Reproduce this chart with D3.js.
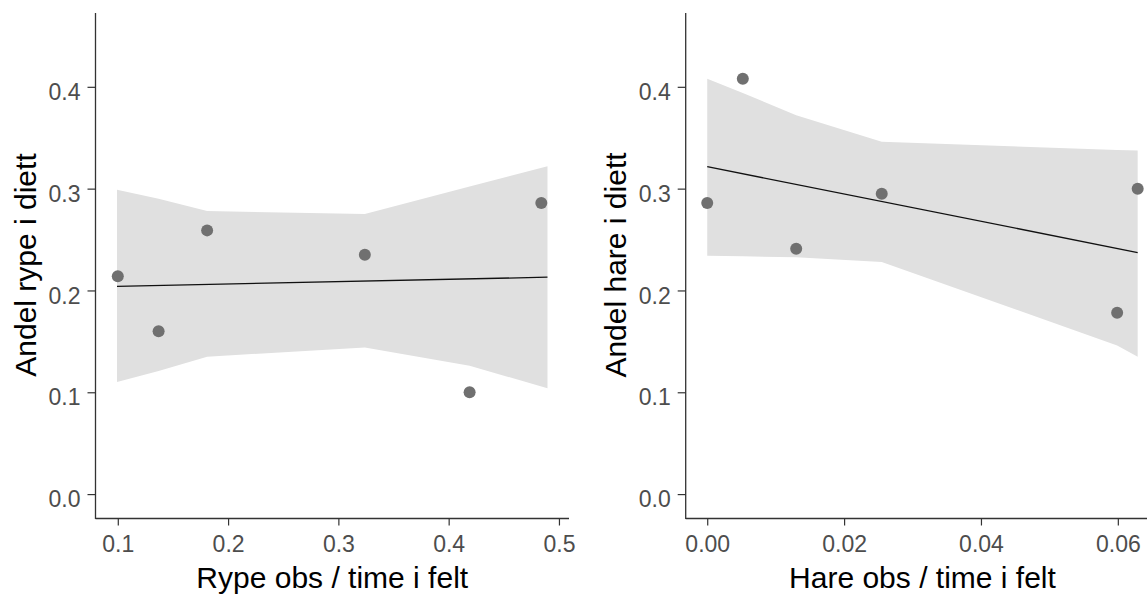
<!DOCTYPE html>
<html>
<head>
<meta charset="utf-8">
<script src="https://cdn.jsdelivr.net/npm/d3@7"></script>
<style>
  body { margin: 0; background: #fff; }
  svg { display: block; }
  text { font-family: "Liberation Sans", Arial, sans-serif; }
</style>
</head>
<body>
<script>
// rype panel
const rypeX = [0.100, 0.137, 0.181, 0.324, 0.419, 0.484];
const rypeY = [0.214, 0.160, 0.259, 0.235, 0.100, 0.286];
const rypeBandX = [0.0993, 0.137, 0.181, 0.324, 0.419, 0.4896];
const rypeBandLo = [0.110, 0.121, 0.135, 0.144, 0.126, 0.104];
const rypeBandHi = [0.299, 0.290, 0.278, 0.275, 0.302, 0.322];
const rypeFitX = [0.0993, 0.4896];
const rypeFitY = [0.204, 0.213];
const rypeTicks = [0.1, 0.2, 0.3, 0.4, 0.5];

// hare panel
const hareX = [0.000, 0.0052, 0.0130, 0.0255, 0.0599, 0.0629];
const hareY = [0.286, 0.408, 0.241, 0.295, 0.178, 0.300];
const hareBandX = [0.000, 0.0052, 0.0130, 0.0255, 0.0599, 0.0629];
const hareBandLo = [0.234, 0.2335, 0.2325, 0.228, 0.146, 0.135];
const hareBandHi = [0.408, 0.394, 0.372, 0.346, 0.338, 0.3375];
const hareFitX = [0.000, 0.0629];
const hareFitY = [0.3216, 0.2372];
const hareTicks = [0.00, 0.02, 0.04, 0.06];

const yTicks = [0.0, 0.1, 0.2, 0.3, 0.4];
const yLimits = [0, 0.45];

const width = 1147, height = 594;
const plotTop = 13, plotBottom = 517;
const panelW = 473.5;

const svg = d3.select('body').append('svg').attr('width', width).attr('height', height)

const y = d3.scaleLinear()
    .domain([yLimits[0] - 0.05 * (yLimits[1] - yLimits[0]), yLimits[1] + 0.05 * (yLimits[1] - yLimits[0])])
    .range([plotBottom, plotTop]);

function panel(opts) {
  const ext = d3.extent(opts.bandX.concat(opts.px))
  const pad = (ext[1] - ext[0]) * 0.05
  const x = d3.scaleLinear().domain([ext[0] - pad, ext[1] + pad]).range([opts.left, opts.left + panelW])
  const g = svg.append('g')

  const band = d3.area()
      .x(function(d, i) { return x(opts.bandX[i]) })
      .y0(function(d, i) { return y(opts.bandLo[i]) })
      .y1(function(d, i) { return y(opts.bandHi[i]) });
  g.append('path').attr('d', band(opts.bandX)).attr('fill', '#e0e0e0')

  const line = d3.line()
      .x(function(d, i) { return x(opts.fitX[i]) })
      .y(function(d, i) { return y(opts.fitY[i]) });
  g.append('path').attr('d', line(opts.fitX)).attr('fill', 'none').attr('stroke', '#111').attr('stroke-width', 1.3)

  g.selectAll('circle').data(opts.px).join('circle')
      .attr('cx', function(d) { return x(d) })
      .attr('cy', function(d, i) { return y(opts.py[i]) })
      .attr('r', 6)
      .attr('fill', '#707070')

  const xAxis = d3.axisBottom(x).tickValues(opts.xTicks).tickSize(7).tickPadding(10)
      .tickFormat(d3.format(opts.xFmt))
  const gx = g.append('g').attr('transform', 'translate(0,' + (plotBottom + 1.5) + ')').call(xAxis)
  gx.select('.domain').attr('d', 'M' + x.range()[0] + ',0H' + x.range()[1]).attr('stroke', '#333').attr('stroke-width', 1.3)
  gx.selectAll('.tick line').attr('stroke', '#333').attr('stroke-width', 1.2)
  gx.selectAll('.tick text').attr('fill', '#4d4d4d').attr('font-size', 23).attr('dy', '0.71em')

  const yAxis = d3.axisLeft(y).tickValues(yTicks).tickSize(8).tickPadding(7).tickFormat(d3.format('.1f'))
  const gy = g.append('g').attr('transform', 'translate(' + opts.left + ',0)').call(yAxis)
  gy.select('.domain').attr('d', 'M0,' + plotTop + 'V' + (plotBottom + 2)).attr('stroke', '#333').attr('stroke-width', 1.3)
  gy.selectAll('.tick line').attr('stroke', '#333').attr('stroke-width', 1.2)
  gy.selectAll('.tick text').attr('fill', '#4d4d4d').attr('font-size', 23).attr('dy', '0.55em')
  svg.selectAll('.tick text').attr('font-family', '"Liberation Sans", Arial, sans-serif')

  g.append('text')
      .attr('x', opts.left + panelW / 2).attr('y', 588)
      .attr('text-anchor', 'middle').attr('font-size', 30).attr('fill', '#000')
      .text(opts.xTitle)

  g.append('text')
      .attr('transform', 'translate(' + opts.titleX + ',' + ((plotTop + plotBottom) / 2) + ') rotate(-90)')
      .attr('text-anchor', 'middle').attr('font-size', 30).attr('fill', '#000')
      .text(opts.yTitle)
}

panel({ left: 95.5, px: rypeX, py: rypeY, bandX: rypeBandX, bandLo: rypeBandLo, bandHi: rypeBandHi,
  fitX: rypeFitX, fitY: rypeFitY, xTicks: rypeTicks, xFmt: '.1f',
  xTitle: 'Rype obs / time i felt', yTitle: 'Andel rype i diett', titleX: 36 })

panel({ left: 685.7, px: hareX, py: hareY, bandX: hareBandX, bandLo: hareBandLo, bandHi: hareBandHi,
  fitX: hareFitX, fitY: hareFitY, xTicks: hareTicks, xFmt: '.2f',
  xTitle: 'Hare obs / time i felt', yTitle: 'Andel hare i diett', titleX: 626 })
</script>
</body>
</html>
